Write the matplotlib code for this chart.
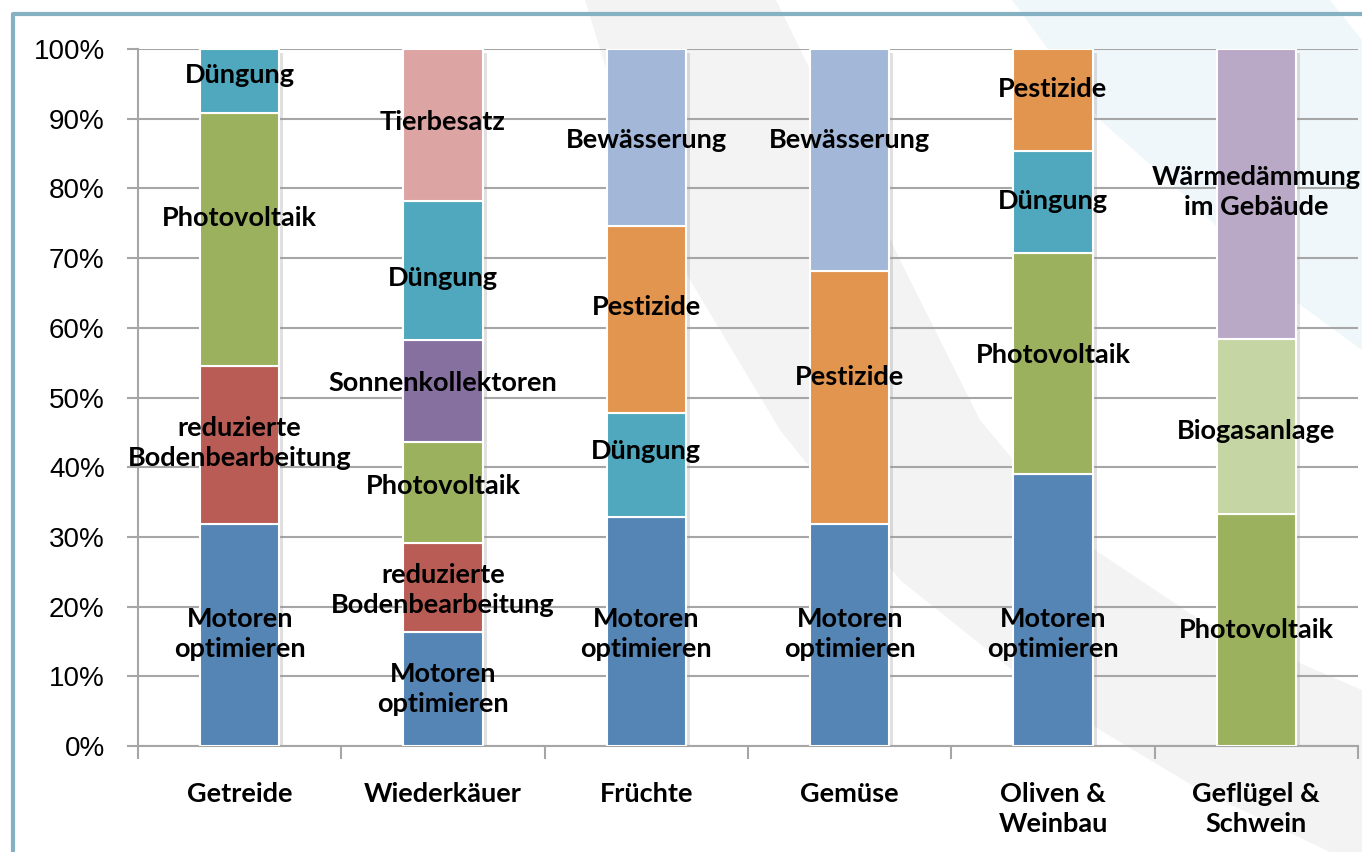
import matplotlib
matplotlib.use("Agg")
import matplotlib.pyplot as plt
import matplotlib.patheffects as pe
from matplotlib.patches import Polygon
from matplotlib.ticker import FixedLocator, PercentFormatter
import numpy as np

# ---------------- data ----------------
categories = ['Getreide', 'Wiederkäuer', 'Früchte', 'Gemüse',
              'Oliven &\nWeinbau', 'Geflügel &\nSchwein']

measures = [
    ['Motoren\noptimieren', 'reduzierte\nBodenbearbeitung', 'Photovoltaik', 'Düngung'],
    ['Motoren\noptimieren', 'reduzierte\nBodenbearbeitung', 'Photovoltaik',
     'Sonnenkollektoren', 'Düngung', 'Tierbesatz'],
    ['Motoren\noptimieren', 'Düngung', 'Pestizide', 'Bewässerung'],
    ['Motoren\noptimieren', 'Pestizide', 'Bewässerung'],
    ['Motoren\noptimieren', 'Photovoltaik', 'Düngung', 'Pestizide'],
    ['Photovoltaik', 'Biogasanlage', 'Wärmedämmung\nim Gebäude'],
]

shares = [
    [31.8, 22.7, 36.3, 9.2],
    [16.4, 12.7, 14.5, 14.6, 20.0, 21.8],
    [32.9, 14.9, 26.8, 25.4],
    [31.8, 36.3, 31.9],
    [39.0, 31.7, 14.7, 14.6],
    [33.3, 25.1, 41.6],
]

yticks = [0, 10, 20, 30, 40, 50, 60, 70, 80, 90, 100]

# ---------------- styles ----------------
colors = {
    'Motoren\noptimieren': '#5585B5',
    'reduzierte\nBodenbearbeitung': '#B95C55',
    'Photovoltaik': '#9CB15E',
    'Düngung': '#50A8BE',
    'Sonnenkollektoren': '#8570A0',
    'Tierbesatz': '#DCA4A3',
    'Pestizide': '#E2954E',
    'Bewässerung': '#A3B7D9',
    'Wärmedämmung\nim Gebäude': '#B9A9C7',
    'Biogasanlage': '#C5D5A4',
}
# manual vertical nudges of the segment labels (pixels, + = down)
label_nudge = [
    [-1, -2, -22, -6],
    [0, 3, -7, -8, 7, -3],
    [3, -14, -12, 2],
    [-1, -21, -20],
    [24, -9, -1, -11],
    [0, 5, -2],
]

W, H = 1362, 852
fig = plt.figure(figsize=(W / 100, H / 100), dpi=100)
fig.patch.set_facecolor('white')

# decorative background swooshes (figure pixel coords -> fraction)
def fpoly(pts, color):
    pts = np.array(pts, float)
    pts[:, 0] /= W
    pts[:, 1] = 1 - pts[:, 1] / H
    fig.patches.append(Polygon(pts, closed=True, facecolor=color, edgecolor='none',
                               transform=fig.transFigure, zorder=-10))

fpoly([(585, 0), (776, 0), (830, 110), (900, 260), (980, 420), (1080, 540),
       (1200, 620), (1362, 690), (1362, 852), (1330, 852), (1200, 790),
       (1050, 700), (900, 580), (780, 430), (690, 280), (625, 130)], '#F3F3F3')
fpoly([(1012, 0), (1330, 0), (1362, 40), (1362, 350), (1280, 290), (1190, 200),
       (1100, 120)], '#F0F7FB')

# frame
fig.add_artist(plt.Line2D([13 / W, 13 / W, 1.0], [0, 1 - 14 / H, 1 - 14 / H],
                          transform=fig.transFigure, color='#86B1C2', lw=3))

ax = fig.add_axes([138 / W, 1 - 746 / H, (1358 - 138) / W, (746 - 49) / H])
ax.set_facecolor('none')

x = np.arange(len(categories))
bar_w = 0.39
label_font = dict(family=['Lato', 'DejaVu Sans'], weight='bold', size=19.5)

totals = [sum(s) for s in shares]
ax.bar(x, totals, width=bar_w, color='none', edgecolor='none', zorder=2,
       path_effects=[pe.SimplePatchShadow(offset=(3, -3), shadow_rgbFace='#999999',
                                          alpha=0.3)])

for i, (ms, vs) in enumerate(zip(measures, shares)):
    bottom = 0.0
    for j, (m, v) in enumerate(zip(ms, vs)):
        ax.bar(x[i], v, bottom=bottom, width=bar_w, color=colors[m],
               edgecolor='white', linewidth=1.5, zorder=3)
        ax.annotate(m, (x[i], bottom + v / 2), xytext=(0, -label_nudge[i][j] * 0.72),
                    textcoords='offset points', ha='center', va='center',
                    linespacing=1.3, zorder=5, **label_font)
        bottom += v

ax.set_xlim(-0.5, len(categories) - 0.5)
ax.set_ylim(0, 100)
ax.yaxis.set_major_locator(FixedLocator(yticks))
ax.yaxis.set_major_formatter(PercentFormatter(decimals=0))
ax.grid(axis='y', color='#A6A6A6', lw=1.5, zorder=0)
ax.set_axisbelow(True)
for s in ['top', 'right']:
    ax.spines[s].set_visible(False)
for s in ['left', 'bottom']:
    ax.spines[s].set_color('#A6A6A6')
    ax.spines[s].set_linewidth(1.5)

ax.tick_params(axis='y', length=8, width=1.5, color='#A6A6A6', pad=16,
               labelsize=20)
for t in ax.get_yticklabels():
    t.set_family(['Liberation Sans', 'DejaVu Sans'])

ax.set_xticks(np.arange(len(categories) + 1) - 0.5)
ax.set_xticklabels([])
ax.tick_params(axis='x', length=9, width=1.5, color='#A6A6A6')
ax.set_xticks(x, minor=True)
ax.set_xticklabels(categories, minor=True, linespacing=1.3, **label_font)
ax.tick_params(axis='x', which='minor', length=0, pad=26)

fig.savefig('out.png', dpi=100, facecolor='white')
